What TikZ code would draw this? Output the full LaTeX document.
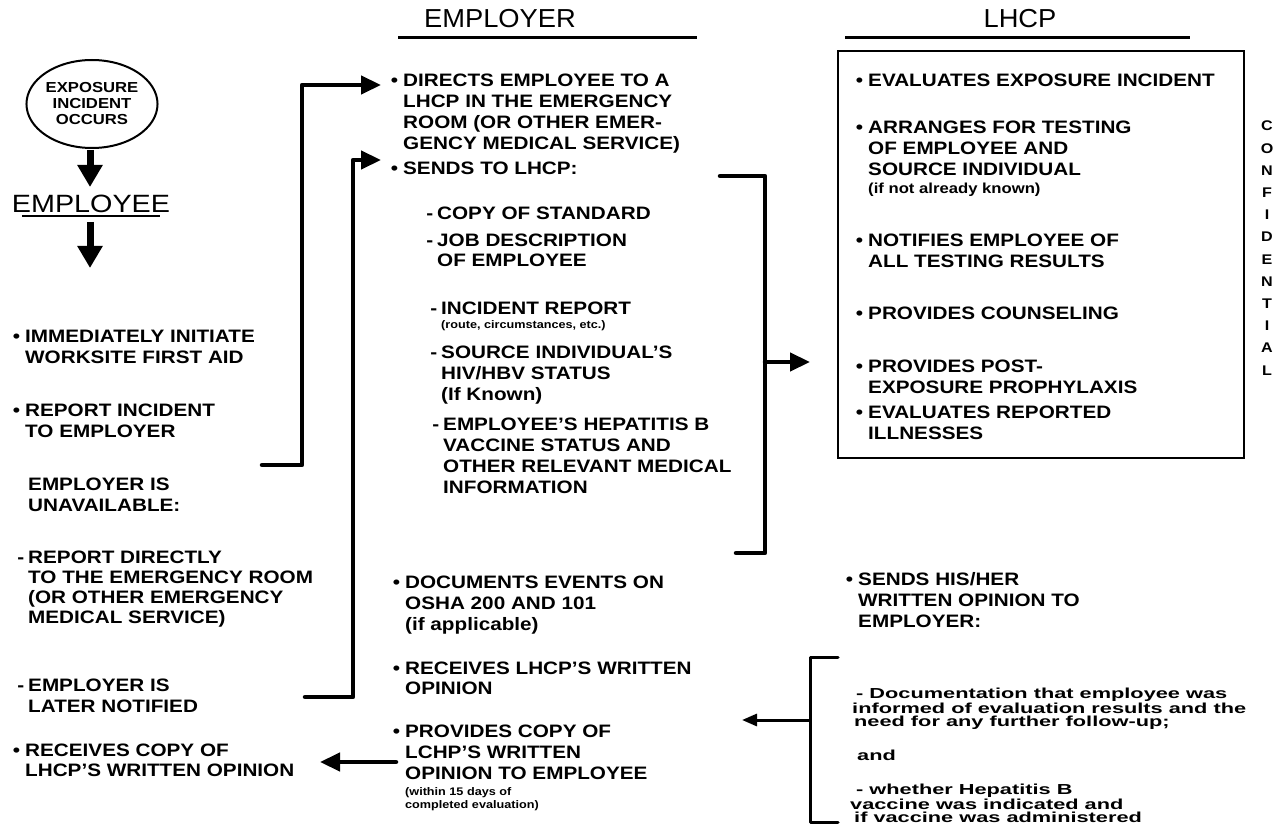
\documentclass[tikz,border=0pt]{standalone}
\usepackage{fontspec}
\setmainfont{Liberation Sans}[FakeStretch=1.15]
\newfontfamily\headf{Liberation Sans}[FakeStretch=1.05]
\newfontfamily\smallf{Liberation Sans}[FakeStretch=1.5]
\usetikzlibrary{arrows.meta,shapes.geometric}
\tikzset{
  txt/.style={anchor=north west, inner sep=0pt, align=left, font=\bfseries\fontsize{18}{21}\selectfont},
  txtb/.style={txt, font=\bfseries\fontsize{18}{20}\selectfont},
  sml/.style={anchor=north west, inner sep=0pt, align=left, font=\bfseries\fontsize{11}{13}\selectfont},
  mid/.style={anchor=north west, inner sep=0pt, align=left, font=\bfseries\fontsize{14.5}{17}\selectfont},
  rsm/.style={anchor=north west, inner sep=0pt, align=left, font=\smallf\bfseries\fontsize{14.5}{13.5}\selectfont},
  head/.style={inner sep=0pt, font=\headf\fontsize{26}{30}\selectfont},
  conn/.style={line width=4.5pt, line join=round, line cap=round},
  arr/.style={conn, -{Triangle[length=20pt,width=18pt]}},
  thinconn/.style={line width=3pt, line join=round, line cap=round},
  thinarr/.style={thinconn, -{Triangle[length=15pt,width=12pt]}},
  downarr/.style={line width=7pt, -{Triangle[length=22pt,width=24pt]}},
}
\newcommand{\bul}{\llap{\textbullet\hspace{5pt}}}
\newcommand{\dsh}{\llap{-\hspace{4pt}}}
\begin{document}
\begin{tikzpicture}[x=1pt,y=-1pt]
\fill[white] (0,0) rectangle (1278,826);
\useasboundingbox (0,0) rectangle (1278,826);

% headings
\node[head] (hemp) at (500,19) {EMPLOYER};
\coordinate (u1a) at (398,38); \coordinate (u1b) at (697,38);
\draw[line width=3pt] (u1a) -- (u1b);
\node[head] (hlhcp) at (1020,19) {LHCP};
\coordinate (u2a) at (845,38); \coordinate (u2b) at (1190,38);
\draw[line width=3pt] (u2a) -- (u2b);

% left column
\node[draw, ellipse, line width=2pt, minimum width=98pt, minimum height=88pt, inner sep=0pt,
      align=center, font=\bfseries\fontsize{14.5}{16}\selectfont] (exp) at (92,104) {EXPOSURE\\INCIDENT\\OCCURS};
\node[inner sep=0pt, font=\fontsize{25}{28}\selectfont] (empl) at (91,204) {EMPLOYEE};
\coordinate (u3a) at (22,216); \coordinate (u3b) at (160,216);
\draw[line width=2.5pt] (u3a) -- (u3b);
\coordinate (a1s) at (90,150); \coordinate (a1e) at (90,187);
\draw[downarr] (a1s) -- (a1e);
\coordinate (a2s) at (90,222); \coordinate (a2e) at (90,268);
\draw[downarr] (a2s) -- (a2e);

\node[txt] (imm) at (25,330) {\bul IMMEDIATELY INITIATE\\WORKSITE FIRST AID};
\node[txt] (rep) at (25,404) {\bul REPORT INCIDENT\\TO EMPLOYER};
\node[txt] (unav) at (28,478) {EMPLOYER IS\\UNAVAILABLE:};
\node[txtb] (rdir) at (28,551) {\dsh REPORT DIRECTLY\\TO THE EMERGENCY ROOM\\(OR OTHER EMERGENCY\\MEDICAL SERVICE)};
\node[txt] (later) at (28,679) {\dsh EMPLOYER IS\\LATER NOTIFIED};
\node[txtb] (rcv) at (25,744) {\bul RECEIVES COPY OF\\LHCP'S WRITTEN OPINION};

% employer column
\node[txt] (directs) at (403,74) {\bul DIRECTS EMPLOYEE TO A\\LHCP IN THE EMERGENCY\\ROOM (OR OTHER EMER-\\GENCY MEDICAL SERVICE)};
\node[txt] (sends) at (403,162) {\bul SENDS TO LHCP:};
\node[txt] (copy) at (437,207) {\dsh COPY OF STANDARD};
\node[txtb] (job) at (437,234) {\dsh JOB DESCRIPTION\\OF EMPLOYEE};
\node[txt] (inc) at (441,302) {\dsh INCIDENT REPORT};
\node[sml] (route) at (441,320) {(route, circumstances, etc.)};
\node[txt] (src) at (441,346) {\dsh SOURCE INDIVIDUAL'S\\HIV/HBV STATUS\\(If Known)};
\node[txt] (hep) at (443,418) {\dsh EMPLOYEE'S HEPATITIS B\\VACCINE STATUS AND\\OTHER RELEVANT MEDICAL\\INFORMATION};
\node[txt] (docs) at (405,576) {\bul DOCUMENTS EVENTS ON\\OSHA 200 AND 101\\(if applicable)};
\node[txtb] (recvs) at (405,662) {\bul RECEIVES LHCP'S WRITTEN\\OPINION};
\node[txt] (prov) at (405,725) {\bul PROVIDES COPY OF\\LCHP'S WRITTEN\\OPINION TO EMPLOYEE};
\node[sml] (within) at (405,787) {(within 15 days of\\completed evaluation)};

% LHCP box
\node[draw, line width=2pt, anchor=north west, inner sep=0pt, minimum width=406pt, minimum height=407pt] (lbox) at (837,50) {};
\node[txt] (eval) at (868,74) {\bul EVALUATES EXPOSURE INCIDENT};
\node[txt] (arr) at (868,121) {\bul ARRANGES FOR TESTING\\OF EMPLOYEE AND\\SOURCE INDIVIDUAL};
\node[mid] (notknown) at (868,183) {(if not already known)};
\node[txt] (notif) at (868,234) {\bul NOTIFIES EMPLOYEE OF\\ALL TESTING RESULTS};
\node[txt] (couns) at (868,307) {\bul PROVIDES COUNSELING};
\node[txt] (post) at (868,360) {\bul PROVIDES POST-\\EXPOSURE PROPHYLAXIS};
\node[txt] (evrep) at (868,406) {\bul EVALUATES REPORTED\\ILLNESSES};
\node[anchor=north, inner sep=0pt, align=center, font=\bfseries\fontsize{14}{22.2}\selectfont] (conf) at (1267,121)
  {C\\O\\N\\F\\I\\D\\E\\N\\T\\I\\A\\L};

% LHCP written opinion
\node[txt] (his) at (858,572) {\bul SENDS HIS/HER\\WRITTEN OPINION TO\\EMPLOYER:};
\node[rsm] (docu) at (852,688) {\hspace{4pt}- Documentation that employee was\\informed of evaluation results and the\\\hspace{2pt}need for any further follow-up;};
\node[rsm] (and) at (857,750) {and};
\node[rsm] (whether) at (850,784) {\hspace{6pt}- whether Hepatitis B\\vaccine was indicated and\\\hspace{4pt}if vaccine was administered};

% connectors
\coordinate (c1a) at (262,465); \coordinate (c1c) at (302,85); \coordinate (c1d) at (381,85);
\draw[arr] (c1a) -| (c1c) -- (c1d);
\coordinate (c2a) at (305,697); \coordinate (c2c) at (353,160); \coordinate (c2d) at (381,160);
\draw[arr] (c2a) -| (c2c) -- (c2d);
\coordinate (b1t) at (720,176); \coordinate (b1c) at (765,553); \coordinate (b1e) at (736,553);
\draw[conn] (b1t) -| (b1c) -- (b1e);
\coordinate (b1m) at (765,362); \coordinate (b1r) at (810,362);
\draw[arr] (b1m) -- (b1r);
\coordinate (b2t) at (838,657); \coordinate (b2v) at (810,822); \coordinate (b2e) at (838,822);
\draw[thinconn] (b2t) -| (b2v) -- (b2e);
\coordinate (b2m) at (810,720); \coordinate (b2l) at (742,720);
\draw[thinarr] (b2m) -- (b2l);
\coordinate (b3s) at (396,762); \coordinate (b3e) at (320,762);
\draw[arr] (b3s) -- (b3e);
\end{tikzpicture}
\end{document}
